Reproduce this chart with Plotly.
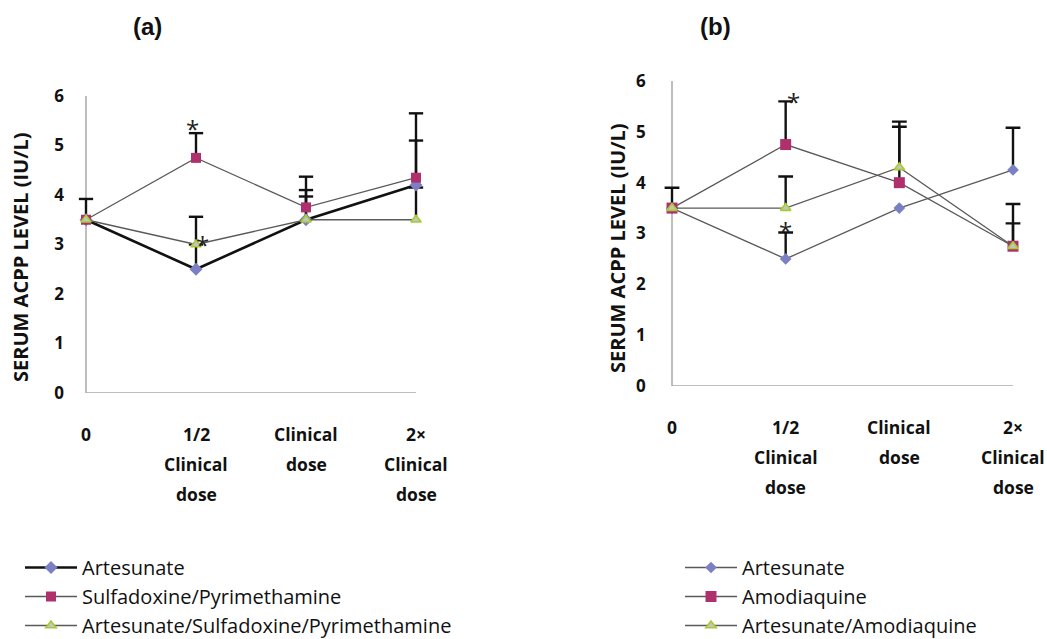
import plotly.graph_objects as go

# ---------------- data ----------------
x_labels = [["0"], ["1/2", "Clinical", "dose"], ["Clinical", "dose"], ["2×", "Clinical", "dose"]]
x_pos = [0, 1, 2, 3]

# Panel (a)
a_names = ["Artesunate", "Sulfadoxine/Pyrimethamine", "Artesunate/Sulfadoxine/Pyrimethamine"]
a_art = [3.5, 2.5, 3.5, 4.2]
a_sp = [3.5, 4.75, 3.75, 4.35]
a_asp = [3.5, 3.0, 3.5, 3.5]
a_art_err = [0.42, 0.5, 0.6, 0.9]
a_sp_err = [0.0, 0.5, 0.62, 1.3]
a_asp_err = [0.0, 0.56, 0.47, 0.65]

# Panel (b)
b_names = ["Artesunate", "Amodiaquine", "Artesunate/Amodiaquine"]
b_art = [3.5, 2.5, 3.5, 4.25]
b_amq = [3.5, 4.75, 4.0, 2.75]
b_aa = [3.5, 3.5, 4.3, 2.75]
b_art_err = [0.4, 0.52, 0.0, 0.83]
b_amq_err = [0.0, 0.85, 1.2, 0.83]
b_aa_err = [0.0, 0.62, 0.8, 0.45]

y_ticks = [0, 1, 2, 3, 4, 5, 6]
y_title = "SERUM ACPP LEVEL (IU/L)"

# ---------------- style ----------------
W, H = 1047, 639
FONT = "Open Sans"
GRAY = "#5a5a5a"
AXIS = "#a8a8a8"
BLUE = "#7b80c4"
MAG = "#b0306e"
GREEN = "#a6cc2e"
CAP = 0.065
PAD = 0.1  # x-range padding so edge marks are not clipped

fig = go.Figure()


def add_errors(vals, errs, xa, ya):
    xs, ys = [], []
    for x, v, e in zip(x_pos, vals, errs):
        if e <= 0:
            continue
        xs += [x, x, None, x - CAP, x + CAP, None]
        ys += [v, v + e, None, v + e, v + e, None]
    fig.add_trace(go.Scatter(x=xs, y=ys, mode="lines", xaxis=xa, yaxis=ya,
                             line=dict(color="#111111", width=2.4),
                             showlegend=False, hoverinfo="skip", cliponaxis=False))


def add_series(name, vals, xa, ya, legend, lcolor, lwidth, symbol, mcolor, msize, mline):
    fig.add_trace(go.Scatter(x=x_pos, y=vals, name=name, mode="lines+markers",
                             xaxis=xa, yaxis=ya, legend=legend,
                             line=dict(color=lcolor, width=lwidth),
                             marker=dict(symbol=symbol, color=mcolor, size=msize, line=mline),
                             cliponaxis=False))


add_errors(a_art, a_art_err, "x", "y")
add_errors(a_sp, a_sp_err, "x", "y")
add_errors(a_asp, a_asp_err, "x", "y")
add_errors(b_art, b_art_err, "x2", "y2")
add_errors(b_amq, b_amq_err, "x2", "y2")
add_errors(b_aa, b_aa_err, "x2", "y2")

tri_line = dict(color=GREEN, width=1.6)
add_series(a_names[0], a_art, "x", "y", "legend", "#111111", 2.6, "diamond", BLUE, 10, dict(width=0))
add_series(a_names[1], a_sp, "x", "y", "legend", GRAY, 1.3, "square", MAG, 10, dict(width=0))
add_series(a_names[2], a_asp, "x", "y", "legend", GRAY, 1.3, "triangle-up", "#c4c4c4", 9, tri_line)

add_series(b_names[0], b_art, "x2", "y2", "legend2", GRAY, 1.3, "diamond", BLUE, 9, dict(width=0))
add_series(b_names[1], b_amq, "x2", "y2", "legend2", GRAY, 1.3, "square", MAG, 11, dict(width=0))
add_series(b_names[2], b_aa, "x2", "y2", "legend2", GRAY, 1.3, "triangle-up", "#c4c4c4", 9, tri_line)


# ---------------- axes ----------------
def dom_x(p0, p3):
    # pixel positions of category 0 and 3 -> padded domain
    ppu = (p3 - p0) / 3.0
    return [(p0 - PAD * ppu) / W, (p3 + PAD * ppu) / W]


def dom_y(top, bottom):
    return [(H - bottom) / H, (H - top) / H]


xa_common = dict(range=[-PAD, 3 + PAD], showgrid=False, zeroline=False, showticklabels=False,
                 ticks="", showline=False, fixedrange=True)
ya_common = dict(range=[0, 6], tickvals=y_ticks, showgrid=False, zeroline=False, ticks="",
                 showline=False,
                 tickfont=dict(family=FONT, size=17, color="#111111", weight="bold"))

leg_font = dict(family=FONT, size=20, color="#111111")
fig.update_layout(
    width=W, height=H,
    margin=dict(l=0, r=0, t=0, b=0, autoexpand=False),
    paper_bgcolor="white", plot_bgcolor="white",
    xaxis=dict(domain=dom_x(86, 416), anchor="y", **xa_common),
    yaxis=dict(domain=dom_y(96, 393), anchor="x", ticklabelstandoff=10, **ya_common),
    xaxis2=dict(domain=dom_x(672, 1013), anchor="y2", **xa_common),
    yaxis2=dict(domain=dom_y(81, 386), anchor="x2", ticklabelstandoff=14, **ya_common),
    legend=dict(x=20 / W, y=-6 / H, xanchor="left", yanchor="bottom", font=leg_font,
                itemwidth=52, tracegroupgap=0, bgcolor="rgba(0,0,0,0)"),
    legend2=dict(x=680 / W, y=-6 / H, xanchor="left", yanchor="bottom", font=leg_font,
                 itemwidth=52, tracegroupgap=0, bgcolor="rgba(0,0,0,0)"),
    showlegend=True,
)

# axis lines (drawn at category 0 and value 0)
shapes = []
for xr, yr in (("x", "y"), ("x2", "y2")):
    shapes.append(dict(type="line", xref=xr, yref=yr, x0=x_pos[0], x1=x_pos[-1], y0=y_ticks[0], y1=y_ticks[0],
                       line=dict(color=AXIS, width=1.5), layer="below"))
    shapes.append(dict(type="line", xref=xr, yref=yr, x0=x_pos[0], x1=x_pos[0], y0=y_ticks[0], y1=y_ticks[-1],
                       line=dict(color=AXIS, width=1.5), layer="below"))
fig.update_layout(shapes=shapes)

# ---------------- annotations ----------------
ann = []
title_font = dict(family="Liberation Sans", size=24, color="#111111")
ann.append(dict(text="<b>(a)</b>", x=147 / W, y=1 - 27 / H, xref="paper", yref="paper",
                xanchor="center", yanchor="middle", showarrow=False, font=title_font))
ann.append(dict(text="<b>(b)</b>", x=715 / W, y=1 - 27 / H, xref="paper", yref="paper",
                xanchor="center", yanchor="middle", showarrow=False, font=title_font))

# y-axis titles
yt_font = dict(family=FONT, size=20, color="#111111", weight="bold")
ann.append(dict(text=y_title, x=20 / W, y=1 - 257 / H, xref="paper", yref="paper",
                xanchor="center", yanchor="middle",
                textangle=-90, showarrow=False, font=yt_font))
ann.append(dict(text=y_title, x=617 / W, y=1 - 248 / H, xref="paper", yref="paper",
                xanchor="center", yanchor="middle",
                textangle=-90, showarrow=False, font=yt_font))

# multi-line category labels
lab_font = dict(family=FONT, size=17.5, color="#111111", weight="bold")
for xr, yr in (("x", "y"), ("x2", "y2")):
    for xi, lines in zip(x_pos, x_labels):
        for li, txt in enumerate(lines):
            ann.append(dict(text=txt, x=xi, y=y_ticks[0], xref=xr, yref=yr, showarrow=False,
                            xanchor="center", yshift=-(41 + 30 * li), yanchor="middle", font=lab_font))

# significance asterisks
star_font = dict(family=FONT, size=24, color="#222222")
ann.append(dict(text="*", x=0.97, y=a_sp[1] + a_sp_err[1], xref="x", yref="y", showarrow=False,
                yshift=5, font=star_font))
ann.append(dict(text="*", x=1.06, y=a_asp[1], xref="x", yref="y", showarrow=False,
                yshift=0, font=star_font))
ann.append(dict(text="*", x=1.07, y=b_amq[1] + b_amq_err[1], xref="x2", yref="y2", showarrow=False,
                yshift=0, font=star_font))
ann.append(dict(text="*", x=1.0, y=b_art[1] + b_art_err[1], xref="x2", yref="y2", showarrow=False,
                yshift=2, font=star_font))

fig.update_layout(annotations=ann)

fig.write_html("out.html")
